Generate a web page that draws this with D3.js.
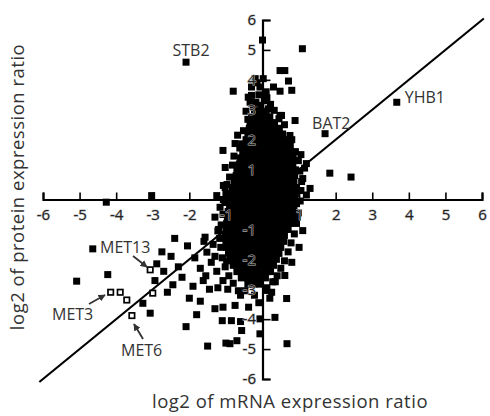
<!DOCTYPE html>
<html>
<head>
<meta charset="utf-8">
<script src="https://cdn.jsdelivr.net/npm/d3@7"></script>
<style>
  body { margin: 0; background: #fff; }
  svg { display: block; font-family: "Open Sans", "DejaVu Sans", sans-serif; }
</style>
</head>
<body>
<svg id="chart" width="490" height="416"></svg>
<script>
var xTicks = [-6, -5, -4, -3, -2, -1, 1, 2, 3, 4, 5, 6];
var yTicks = [-6, -5, -4, -3, -2, -1, 1, 2, 3, 4, 5, 6];
var diagonal = [-6.1, 6.05];

// dense middle of the cloud, one row per protein ratio level
var coreRows = [
  [2.95, [-0.22, -0.05, 0.1]],
  [2.76, [-0.3, -0.13, 0.04, 0.2]],
  [2.57, [-0.33, -0.16, 0.0, 0.17, 0.33]],
  [2.38, [-0.36, -0.19, -0.03, 0.14, 0.3, 0.46]],
  [2.19, [-0.4, -0.24, -0.07, 0.09, 0.26, 0.42, 0.55]],
  [2.0, [-0.45, -0.28, -0.12, 0.05, 0.21, 0.38, 0.54, 0.66]],
  [1.8, [-0.47, -0.31, -0.14, 0.02, 0.19, 0.35, 0.52, 0.68, 0.76]],
  [1.6, [-0.54, -0.37, -0.21, -0.04, 0.12, 0.29, 0.45, 0.62, 0.78]],
  [1.39, [-0.6, -0.43, -0.27, -0.1, 0.06, 0.23, 0.39, 0.56, 0.72, 0.84]],
  [1.19, [-0.63, -0.47, -0.3, -0.14, 0.03, 0.19, 0.36, 0.52, 0.69, 0.83]],
  [0.99, [-0.7, -0.53, -0.37, -0.2, -0.04, 0.13, 0.29, 0.46, 0.62, 0.79, 0.9]],
  [0.8, [-0.72, -0.56, -0.39, -0.23, -0.06, 0.1, 0.27, 0.43, 0.6, 0.76, 0.88]],
  [0.6, [-0.77, -0.6, -0.44, -0.27, -0.11, 0.06, 0.22, 0.39, 0.55, 0.72, 0.86]],
  [0.4, [-0.82, -0.66, -0.49, -0.33, -0.16, 0.0, 0.17, 0.33, 0.5, 0.66, 0.83, 0.93]],
  [0.2, [-0.84, -0.68, -0.51, -0.35, -0.18, -0.02, 0.15, 0.31, 0.48, 0.64, 0.81, 0.9]],
  [0.0, [-0.88, -0.71, -0.55, -0.38, -0.22, -0.05, 0.11, 0.28, 0.44, 0.61, 0.77, 0.88]],
  [-0.2, [-0.9, -0.73, -0.57, -0.4, -0.24, -0.07, 0.09, 0.26, 0.42, 0.59, 0.75, 0.86]],
  [-0.4, [-0.94, -0.77, -0.61, -0.44, -0.28, -0.11, 0.05, 0.22, 0.38, 0.55, 0.71, 0.82]],
  [-0.6, [-0.96, -0.8, -0.63, -0.47, -0.3, -0.14, 0.03, 0.19, 0.36, 0.52, 0.69, 0.78]],
  [-0.8, [-0.98, -0.81, -0.65, -0.48, -0.32, -0.15, 0.01, 0.18, 0.34, 0.51, 0.67, 0.75]],
  [-1.0, [-1.0, -0.84, -0.67, -0.51, -0.34, -0.18, -0.01, 0.15, 0.32, 0.48, 0.64, 0.7]],
  [-1.2, [-1.02, -0.86, -0.69, -0.53, -0.36, -0.2, -0.03, 0.13, 0.3, 0.46, 0.6]],
  [-1.4, [-1.0, -0.84, -0.67, -0.51, -0.34, -0.18, -0.01, 0.15, 0.32, 0.48, 0.58]],
  [-1.6, [-0.98, -0.82, -0.65, -0.49, -0.32, -0.16, 0.01, 0.17, 0.34, 0.5]],
  [-1.8, [-0.93, -0.77, -0.6, -0.44, -0.27, -0.11, 0.06, 0.22, 0.39, 0.45]],
  [-2.0, [-0.88, -0.71, -0.55, -0.38, -0.22, -0.05, 0.11, 0.28, 0.38]],
  [-2.2, [-0.8, -0.64, -0.47, -0.31, -0.14, 0.02, 0.19, 0.3]],
  [-2.41, [-0.7, -0.53, -0.37, -0.2, -0.04, 0.13, 0.22]],
  [-2.62, [-0.58, -0.41, -0.25, -0.08, 0.08]],
  [-2.83, [-0.4, -0.24, -0.07]]
];

// ragged rim of the cloud
var rimPoints = [
  [-0.45, 2.95], [0.32, 2.98], [0.6, 2.5], [-0.52, 2.3], [0.22, 3.18], [-0.18, 3.25], [0.45, 2.7],
  [-0.4, 2.68], [0.12, 3.4], [-0.05, 3.15],
  [-0.68, 2.15], [-0.62, 1.72], [-0.78, 1.45], [-0.82, 1.15], [-0.9, 0.75], [-0.97, 0.5], [-1.0, 0.2],
  [-1.03, -0.1], [-1.08, -0.5], [-1.13, -0.85], [-1.17, -1.3], [-1.14, -1.6], [-1.1, -1.95], [-1.02, -2.25],
  [-0.92, -2.55], [-0.8, -2.8], [-0.66, -3.05], [-1.22, -1.05], [-0.98, -2.05],
  [0.8, 2.0], [0.9, 1.6], [0.98, 1.3], [1.02, 0.95], [1.07, 0.6], [1.05, 0.3], [1.03, -0.05],
  [0.98, -0.45], [0.93, -0.8], [0.87, -1.15], [0.78, -1.45], [0.7, -1.75], [0.6, -2.05], [0.5, -2.3],
  [0.4, -2.55], [0.28, -2.75], [1.15, 1.05], [1.2, 0.15],
  [-0.48, -3.05], [-0.22, -3.2], [0.12, -2.95], [-0.1, -3.45], [0.2, -3.3], [-0.38, -3.6]
];

// scattered genes outside the cloud, [mRNA, protein]
var scatterPoints = [
  [0.0, 5.33], [1.09, 5.04], [-0.8, 3.62], [0.48, 4.31], [0.61, 4.31], [0.71, 3.96],
  [0.8, 3.65], [0.3, 3.76], [0.48, 3.62], [-0.3, 3.48], [-0.34, 3.25], [-0.25, 3.09],
  [0.02, 4.04], [-0.07, 3.76], [0.16, 3.03], [-0.2, 4.04], [-0.3, 3.76], [-0.39, 3.42],
  [0.52, 2.81], [0.89, 2.64], [-0.34, 2.53], [-0.16, 2.47], [0.3, 2.31], [0.75, 2.14],
  [0.02, 2.75], [0.48, 2.81], [-0.1, 3.5], [0.05, 3.3], [-0.15, 3.9], [0.1, 3.6],
  [-0.75, 1.87], [-1.08, 1.64], [-1.02, 1.07], [-1.02, 0.4], [-1.25, 0.13], [-1.57, -1.26],
  [-1.3, -0.59], [-1.52, -1.76], [-1.62, -2.71], [-1.08, -2.71], [-1.07, 0.47], [-0.66, 0.41],
  [-1.16, -0.26], [-0.57, 1.86], [-1.07, 0.0], [-1.2, -1.0], [-1.35, -1.5], [-1.4, -2.1],
  [-1.25, -2.4], [1.84, 0.88], [1.3, 0.37], [1.1, -1.04], [0.61, -2.54], [0.66, -3.31],
  [0.25, -3.1], [1.1, 0.7], [0.93, -0.14], [2.42, 0.75], [1.2, 1.2], [1.05, 1.5],
  [0.95, -0.6], [1.0, -1.6], [0.8, -2.1], [-4.27, -0.09], [-3.03, 0.13],
  [-4.64, -1.65], [-5.08, -2.73], [-4.23, -2.51], [-2.94, -2.71], [-3.27, -3.47], [-3.07, -3.8],
  [-2.89, -2.15], [-2.5, -1.9], [-2.3, -2.25], [-2.05, -1.55], [-2.2, -2.6], [-1.9, -2.9],
  [-1.7, -2.3], [-2.6, -3.1], [-1.85, -1.95], [-1.55, -2.55], [-1.45, -3.0], [-2.4, -1.3],
  [-2.75, -1.75], [-2.0, -3.3], [-1.7, -3.4], [-1.8, -3.85], [-2.09, -4.25], [-1.5, -4.9],
  [-1.0, -4.8], [-1.3, -3.65], [-2.45, -2.85], [-2.7, -2.4], [-1.3, -1.9], [-1.6, -1.4],
  [-1.08, -3.6], [-0.75, -3.54], [-1.1, -4.05], [-0.85, -4.05], [-0.6, -4.08], [-0.89, -4.82],
  [-0.7, -4.72], [-0.57, -4.38], [0.11, -3.04], [-0.07, -3.99], [0.34, -3.94], [-0.07, -4.49],
  [0.67, -4.82], [-0.95, -3.0], [-0.6, -3.2], [0.35, -2.75], [-1.22, -2.95]
];

var namedGenes = [
  { name: "STB2", x: -2.09, y: 4.59 },
  { name: "BAT2", x: 1.71, y: 2.2 },
  { name: "YHB1", x: 3.67, y: 3.25 }
];

// methionine genes, drawn hollow
var metPoints = [[-3.07, -2.35], [-4.15, -3.1], [-3.89, -3.1], [-3.71, -3.36], [-3.57, -3.88], [-3.0, -3.13]];

var xTitle = "log2 of mRNA expression ratio";
var yTitle = "log2 of protein expression ratio";

var SQ = 7;
var svg = d3.select("#chart");
var x = d3.scaleLinear().domain([-6, 6]).range([43, 482]);
var y = d3.scaleLinear().domain([-6, 6]).range([379, 20]);

var filled = [];
coreRows.forEach(function(row){
  row[1].forEach(function(v){ filled.push([v, row[0]]); });
});
filled = filled.concat(rimPoints, scatterPoints);
namedGenes.forEach(function(g){ filled.push([g.x, g.y]); });

svg.append("g").selectAll("rect")
  .data(filled)
  .enter().append("rect")
  .attr("x", function(d){ return x(d[0]) - SQ / 2; })
  .attr("y", function(d){ return y(d[1]) - SQ / 2; })
  .attr("width", SQ).attr("height", SQ)
  .attr("fill", "#000");

svg.append("line")
  .attr("x1", x(diagonal[0])).attr("y1", y(diagonal[0]))
  .attr("x2", x(diagonal[1])).attr("y2", y(diagonal[1]))
  .attr("stroke", "#000").attr("stroke-width", 2.2);

svg.append("g").selectAll("rect")
  .data(metPoints)
  .enter().append("rect")
  .attr("x", function(d){ return x(d[0]) - SQ / 2 + 0.8; })
  .attr("y", function(d){ return y(d[1]) - SQ / 2 + 0.8; })
  .attr("width", SQ - 1.6).attr("height", SQ - 1.6)
  .attr("fill", "#fff").attr("stroke", "#000").attr("stroke-width", 1.7);

// axes cross at the origin
var fmt = function(d){ return String(d); };
var gx = svg.append("g").attr("transform", "translate(0," + y(0) + ")")
  .call(d3.axisBottom(x).tickValues(xTicks).tickFormat(fmt)
    .tickSizeInner(-7).tickSizeOuter(-7).tickPadding(10));
var gy = svg.append("g").attr("transform", "translate(" + x(0) + ",0)")
  .call(d3.axisLeft(y).tickValues(yTicks).tickFormat(fmt)
    .tickSizeInner(-8).tickSizeOuter(-8).tickPadding(6.5));

[gx, gy].forEach(function(g){
  g.select(".domain").attr("stroke-width", 2.2);
  g.selectAll(".tick line").attr("stroke-width", 1.6);
  g.selectAll("text")
    .attr("font-family", "'Open Sans', sans-serif")
    .attr("font-size", 15).attr("fill", "#222")
    .attr("stroke", "#bbb").attr("stroke-width", 1).attr("paint-order", "stroke");
});

var labelPos = {
  STB2: { dx: 5, dy: -6, anchor: "middle" },
  BAT2: { dx: -13, dy: -5, anchor: "start" },
  YHB1: { dx: 8, dy: 1, anchor: "start" }
};
svg.append("g").selectAll("text")
  .data(namedGenes)
  .enter().append("text")
  .attr("x", function(d){ return x(d.x) + labelPos[d.name].dx; })
  .attr("y", function(d){ return y(d.y) + labelPos[d.name].dy; })
  .attr("text-anchor", function(d){ return labelPos[d.name].anchor; })
  .attr("font-size", 16).attr("fill", "#333")
  .text(function(d){ return d.name; });

svg.append("defs").append("marker")
  .attr("id", "head").attr("viewBox", "0 0 10 10")
  .attr("refX", 9).attr("refY", 5)
  .attr("markerWidth", 4).attr("markerHeight", 4)
  .attr("orient", "auto")
  .append("path").attr("d", "M0,0L10,5L0,10Z").attr("fill", "#333");

var metNotes = [
  { text: "MET13", tx: 100, ty: 253, from: [133, 256], to: [147, 267] },
  { text: "MET3", tx: 52, ty: 320, from: [89, 304], to: [105, 295] },
  { text: "MET6", tx: 121, ty: 356, from: [143, 339], to: [134, 324] }
];
metNotes.forEach(function(n){
  svg.append("text").attr("x", n.tx).attr("y", n.ty)
    .attr("font-size", 16).attr("fill", "#333").text(n.text);
  svg.append("line")
    .attr("x1", n.from[0]).attr("y1", n.from[1])
    .attr("x2", n.to[0]).attr("y2", n.to[1])
    .attr("stroke", "#333").attr("stroke-width", 1.8)
    .attr("marker-end", "url(#head)");
});

svg.append("text")
  .attr("x", 290).attr("y", 408)
  .attr("text-anchor", "middle")
  .attr("font-size", 18.5).attr("letter-spacing", 0.5).attr("fill", "#333")
  .text(xTitle);

svg.append("text")
  .attr("transform", "translate(24,187) rotate(-90)")
  .attr("text-anchor", "middle")
  .attr("font-size", 18.5).attr("letter-spacing", 0.5).attr("fill", "#333")
  .text(yTitle);
</script>
</body>
</html>
